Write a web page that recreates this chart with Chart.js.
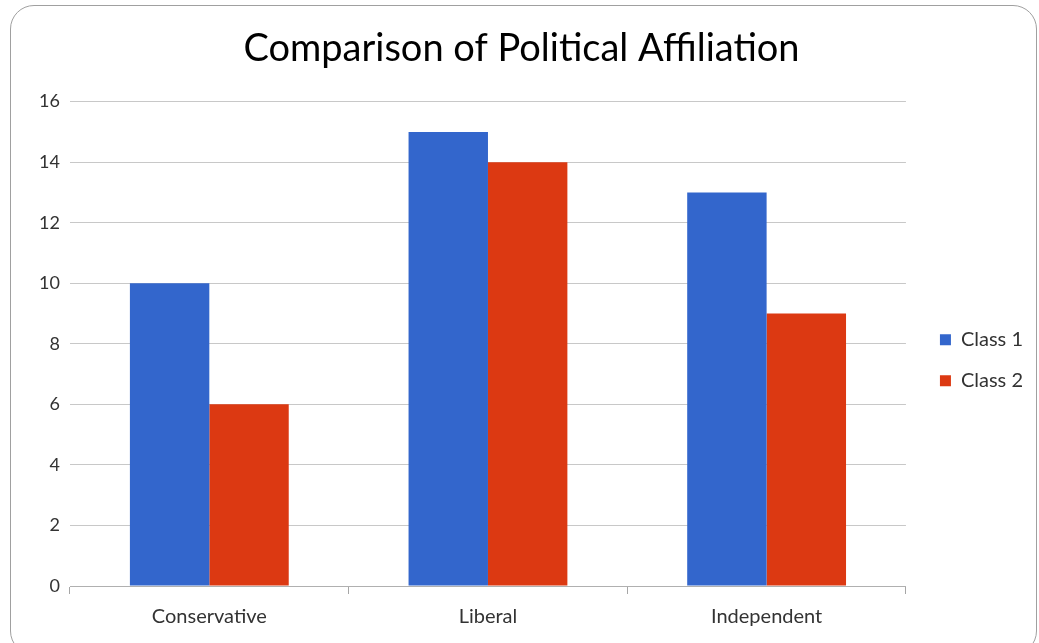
<!DOCTYPE html>
<html lang="en">
<head>
	<meta charset="UTF-8">
	<title>Comparison of Political Affiliation</title>
	<script src="https://cdn.jsdelivr.net/npm/chart.js@4/dist/chart.umd.min.js"></script>
	<style>
		html, body { margin: 0; padding: 0; background: #fff; overflow: hidden; }
		#frame {
			position: absolute; left: 10px; top: 5px; width: 1027px; height: 650px;
			border: 1.5px solid #a0a0a0; border-radius: 24px; box-sizing: border-box;
		}
		#wrap { position: absolute; left: 0; top: 0; width: 1039px; height: 643px; }
	</style>
</head>
<body>
<div id="frame"></div>
<div id="wrap"><canvas id="chart"></canvas></div>

<script>

// chart data
var categories = ['Conservative', 'Liberal', 'Independent'];
var class1 = [10, 15, 13];
var class2 = [6, 14, 9];
var seriesNames = ['Class 1', 'Class 2'];

var FONT = 'Lato, "Open Sans", sans-serif';

const ctx = document.getElementById('chart').getContext('2d');
const chart = new Chart(ctx, {
	type: 'bar',
	data: {
		labels: categories,
		datasets: [{
			label: seriesNames[0],
			data: class1,
			backgroundColor: '#3366CC'
		}, {
			label: seriesNames[1],
			data: class2,
			backgroundColor: '#DC3912'
		}]
	},
	options: {
		responsive: true,
		maintainAspectRatio: false,
		animation: false,
		datasets: {
			bar: { barPercentage: 1, categoryPercentage: 0.57 }
		},
		layout: { padding: { left: 10, right: 6, top: 0, bottom: 3 } },
		plugins: {
			title: {
				display: true,
				text: 'Comparison of Political Affiliation',
				color: '#000',
				font: { family: FONT, size: 38, weight: 'normal' },
				padding: { top: 26, bottom: 30 }
			},
			legend: {
				position: 'right',
				fullSize: false,
				// blank title only pushes the items down a little
				title: { display: true, text: ' ', font: { size: 10 }, padding: { top: 0, bottom: 21 } },
				labels: {
					boxWidth: 11,
					boxHeight: 11,
					padding: 21,
					color: '#333',
					font: { family: FONT, size: 20 }
				}
			},
			tooltip: { enabled: false }
		},
		scales: {
			x: {
				grid: {
					offset: true,
					drawOnChartArea: false,
					tickLength: 8,
					color: '#a6a6a6'
				},
				border: { color: '#b0b0b0' },
				ticks: { color: '#333', padding: 11, font: { family: FONT, size: 20 } }
			},
			y: {
				min: 0,
				max: 16,
				ticks: { stepSize: 2, color: '#333', padding: 10, font: { family: FONT, size: 18 } },
				grid: { drawTicks: false, color: '#c8c8c8' },
				border: { display: false },
				afterFit: function (scale) { scale.width = 60; }
			},
			// empty spacer between plot and legend
			gap: {
				type: 'linear',
				position: 'right',
				ticks: { display: false },
				grid: { display: false },
				border: { display: false },
				afterFit: function (scale) { scale.width = 13; }
			}
		}
	}
});
</script>
</body>
</html>
